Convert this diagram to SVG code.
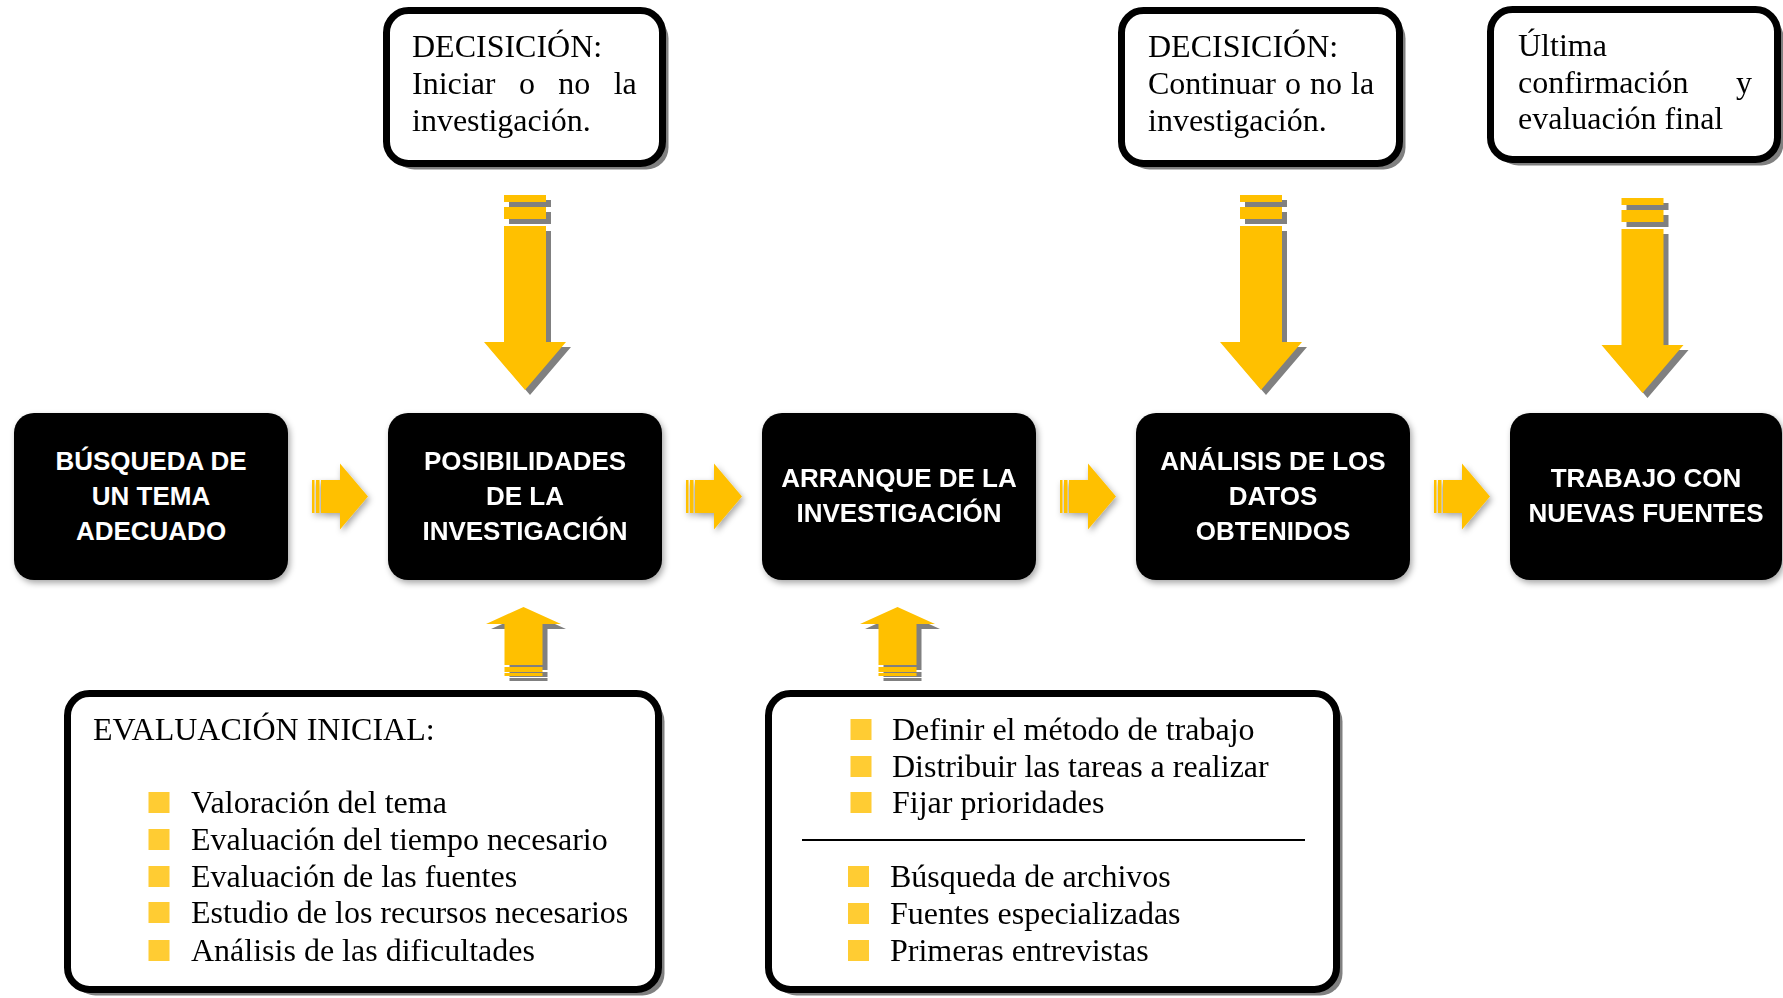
<svg xmlns="http://www.w3.org/2000/svg" xmlns:xlink="http://www.w3.org/1999/xlink" width="1783" height="998" viewBox="0 0 1783 998">
<style>
.blk{fill:#000}
.bt{font-family:'Liberation Sans',Arial,sans-serif;font-weight:bold;font-size:26px;fill:#fff;text-anchor:middle}
.wb{fill:#fff;stroke:#000;stroke-width:7}
.sh{fill:#808080}
.st{font-family:'Liberation Serif','Times New Roman',serif;font-size:32px;fill:#000}
.bul{fill:#FFCC33}
.yel{fill:#FFC000}
</style>
<defs>
<filter id="soft" x="-20%" y="-20%" width="140%" height="140%">
<feDropShadow dx="2" dy="3" stdDeviation="3" flood-color="#000" flood-opacity="0.35"/>
</filter>
<g id="down">
<rect x="-21" y="0" width="42" height="7"/>
<rect x="-21" y="12" width="42" height="12"/>
<path d="M-21 31H21V147H41L0 195L-41 147H-21Z"/>
</g>
<g id="up">
<path d="M0 0L37.5 17H19V58H-19V17H-37.5Z"/>
<rect x="-19" y="60" width="38" height="5"/>
<rect x="-19" y="66" width="38" height="3"/>
</g>
<g id="right">
<rect x="0" y="-16.5" width="2.5" height="33"/>
<rect x="4" y="-16.5" width="3.5" height="33"/>
<path d="M9 -16.5H28V-33L56 0L28 33V16.5H9Z"/>
</g>
</defs>

<g id="connectors">
<use xlink:href="#down" class="sh" transform="translate(530,200)"/>
<use xlink:href="#down" class="yel" transform="translate(525,195)"/>
<use xlink:href="#down" class="sh" transform="translate(1266,200)"/>
<use xlink:href="#down" class="yel" transform="translate(1261,195)"/>
<use xlink:href="#down" class="sh" transform="translate(1647.5,203)"/>
<use xlink:href="#down" class="yel" transform="translate(1642.5,198)"/>
<use xlink:href="#up" class="sh" transform="translate(528.5,612)"/>
<use xlink:href="#up" class="yel" transform="translate(523.5,607)"/>
<use xlink:href="#up" class="sh" transform="translate(902.5,612)"/>
<use xlink:href="#up" class="yel" transform="translate(897.5,607)"/>
<g class="yel" filter="url(#soft)">
<use xlink:href="#right" transform="translate(312,496.5)"/>
<use xlink:href="#right" transform="translate(686,496.5)"/>
<use xlink:href="#right" transform="translate(1060,496.5)"/>
<use xlink:href="#right" transform="translate(1434,496.5)"/>
</g>
</g>

<g id="node-busqueda">
<rect class="blk" x="14" y="413" width="274" height="167" rx="20" filter="url(#soft)"/>
<text class="bt" x="151" y="470">BÚSQUEDA DE</text>
<text class="bt" x="151" y="505">UN TEMA</text>
<text class="bt" x="151" y="540">ADECUADO</text>
</g>
<g id="node-posibilidades">
<rect class="blk" x="388" y="413" width="274" height="167" rx="20" filter="url(#soft)"/>
<text class="bt" x="525" y="470">POSIBILIDADES</text>
<text class="bt" x="525" y="505">DE LA</text>
<text class="bt" x="525" y="540">INVESTIGACIÓN</text>
</g>
<g id="node-arranque">
<rect class="blk" x="762" y="413" width="274" height="167" rx="20" filter="url(#soft)"/>
<text class="bt" x="899" y="487">ARRANQUE DE LA</text>
<text class="bt" x="899" y="522">INVESTIGACIÓN</text>
</g>
<g id="node-analisis">
<rect class="blk" x="1136" y="413" width="274" height="167" rx="20" filter="url(#soft)"/>
<text class="bt" x="1273" y="470">ANÁLISIS DE LOS</text>
<text class="bt" x="1273" y="505">DATOS</text>
<text class="bt" x="1273" y="540">OBTENIDOS</text>
</g>
<g id="node-trabajo">
<rect class="blk" x="1510" y="413" width="272" height="167" rx="20" filter="url(#soft)"/>
<text class="bt" x="1646" y="487">TRABAJO CON</text>
<text class="bt" x="1646" y="522">NUEVAS FUENTES</text>
</g>

<g id="node-decision1">
<rect class="sh" x="392.5" y="16.5" width="276" height="153" rx="22"/>
<rect class="wb" x="386.5" y="10.5" width="276" height="153" rx="22"/>
<text class="st" x="412" y="57">DECISICIÓN:</text>
<text class="st" x="412" y="94" word-spacing="15.4">Iniciar o no la</text>
<text class="st" x="412" y="131">investigación.</text>
</g>
<g id="node-decision2">
<rect class="sh" x="1127.5" y="16.5" width="278" height="153" rx="22"/>
<rect class="wb" x="1121.5" y="10.5" width="278" height="153" rx="22"/>
<text class="st" x="1148" y="57">DECISICIÓN:</text>
<text class="st" x="1148" y="94" word-spacing="1">Continuar o no la</text>
<text class="st" x="1148" y="131">investigación.</text>
</g>
<g id="node-ultima">
<rect class="sh" x="1496.5" y="15.5" width="287" height="150" rx="22"/>
<rect class="wb" x="1490.5" y="9.5" width="287" height="150" rx="22"/>
<text class="st" x="1518" y="56">Última</text>
<text class="st" y="92.5"><tspan x="1518">confirmación</tspan><tspan x="1736">y</tspan></text>
<text class="st" x="1518" y="129">evaluación final</text>
</g>

<g id="node-evaluacion">
<rect class="sh" x="73.5" y="699.5" width="591" height="296" rx="22"/>
<rect class="wb" x="67.5" y="693.5" width="591" height="296" rx="22"/>
<text class="st" x="93" y="740">EVALUACIÓN INICIAL:</text>
<rect class="bul" x="148.5" y="792" width="21" height="21"/>
<rect class="bul" x="148.5" y="829" width="21" height="21"/>
<rect class="bul" x="148.5" y="866" width="21" height="21"/>
<rect class="bul" x="148.5" y="902" width="21" height="21"/>
<rect class="bul" x="148.5" y="940" width="21" height="21"/>
<text class="st" x="191" y="813">Valoración del tema</text>
<text class="st" x="191" y="850">Evaluación del tiempo necesario</text>
<text class="st" x="191" y="887">Evaluación de las fuentes</text>
<text class="st" x="191" y="923">Estudio de los recursos necesarios</text>
<text class="st" x="191" y="961">Análisis de las dificultades</text>
</g>
<g id="node-tareas">
<rect class="sh" x="774.5" y="699.5" width="568" height="296" rx="22"/>
<rect class="wb" x="768.5" y="693.5" width="568" height="296" rx="22"/>
<rect class="bul" x="850.5" y="719" width="21" height="21"/>
<rect class="bul" x="850.5" y="756" width="21" height="21"/>
<rect class="bul" x="850.5" y="792" width="21" height="21"/>
<text class="st" x="892" y="740">Definir el método de trabajo</text>
<text class="st" x="892" y="777">Distribuir las tareas a realizar</text>
<text class="st" x="892" y="813">Fijar prioridades</text>
<line x1="802" y1="840" x2="1305" y2="840" stroke="#000" stroke-width="2"/>
<rect class="bul" x="848" y="866" width="21" height="21"/>
<rect class="bul" x="848" y="903" width="21" height="21"/>
<rect class="bul" x="848" y="940" width="21" height="21"/>
<text class="st" x="890" y="887">Búsqueda de archivos</text>
<text class="st" x="890" y="924">Fuentes especializadas</text>
<text class="st" x="890" y="961">Primeras entrevistas</text>
</g>
</svg>
